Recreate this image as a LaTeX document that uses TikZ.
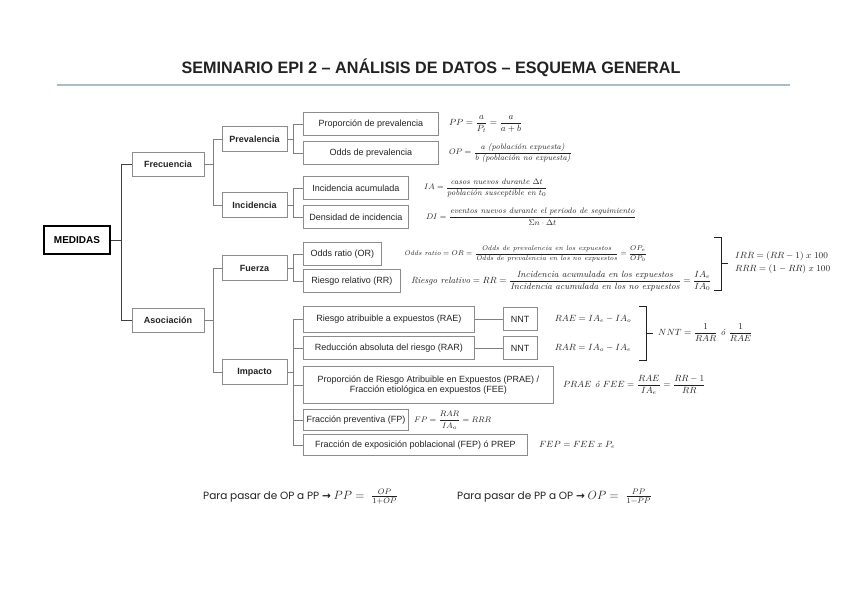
\documentclass[tikz,border=0pt]{standalone}
\usepackage{amsmath,amssymb}
\usepackage[no-math]{fontspec}
\setsansfont{Liberation Sans}
\newfontfamily\popfont{Poppins}
\newfontfamily\arrowfont{DejaVu Sans}
\usetikzlibrary{positioning,calc}
\definecolor{boxGray}{HTML}{8C8C8C}
\definecolor{lineGray}{HTML}{7F7F7F}
\definecolor{rootLine}{HTML}{404040}
\definecolor{textDark}{HTML}{222222}
\definecolor{ruleBlue}{HTML}{A8BEC4}
\newcommand{\ftext}[1]{\text{\itshape #1}}

\begin{document}
\begin{tikzpicture}[
    x=1pt, y=-1pt,
    node distance=10pt,
    font=\sffamily\fontsize{9}{10}\selectfont,
    head/.style={draw=black, line width=1.3pt, minimum width=66pt, minimum height=28pt, font=\sffamily\bfseries\fontsize{10}{11}\selectfont},
    group/.style={draw=boxGray, line width=0.8pt, minimum width=72pt, minimum height=24pt, text=textDark, font=\sffamily\bfseries\fontsize{9}{10}\selectfont},
    sub/.style={group, minimum width=65pt, minimum height=25pt},
    item/.style={draw=boxGray, line width=0.8pt, minimum height=23pt, anchor=west, text=textDark},
    nnt/.style={draw=boxGray, line width=0.8pt, minimum width=34pt, minimum height=23pt, text=textDark},
    formula/.style={anchor=west, inner sep=0pt, text=textDark, font=\rmfamily\fontsize{8}{9}\selectfont},
    rootlink/.style={draw=rootLine, line width=1pt},
    link/.style={draw=lineGray, line width=0.8pt},
    bracket/.style={draw=textDark, line width=0.7pt}
]
    \useasboundingbox (0,0) rectangle (848,599);

    \node[text=textDark] (title) at (431,68) {\scalebox{0.98}[1]{\fontsize{16.5}{18}\selectfont\bfseries SEMINARIO EPI 2 – ANÁLISIS DE DATOS – ESQUEMA GENERAL}};
    \draw[ruleBlue, line width=2pt] (57,85) -- (790,85);

    \node[head] (medidas) at (77,240) {MEDIDAS};
    \node[group] (frec) at (168,164) {Frecuencia};
    \node[group] (asoc) at (168,320) {Asociación};
    \node[sub] (prev) at (254.5,139) {Prevalencia};
    \node[sub] (inci) at (254.5,205) {Incidencia};
    \node[sub] (fuer) at (254.5,268) {Fuerza};
    \node[sub] (impa) at (254.5,372) {Impacto};

    \node[item, minimum width=135pt] (propprev) at (303,124) {Proporción de prevalencia};
    \node[item, minimum width=135pt] (oddsprev) at (303,153) {Odds de prevalencia};
    \node[item, minimum width=105pt] (incacum) at (303,188) {Incidencia acumulada};
    \node[item, minimum width=105pt] (densinc) at (303,217) {Densidad de incidencia};
    \node[item, minimum width=78pt] (oddsratio) at (303,254) {Odds ratio (OR)};
    \node[item, minimum width=97pt] (riesgorel) at (303,281) {Riesgo relativo (RR)};
    \node[item, minimum width=171pt, minimum height=26pt] (rae) at (303,319) {Riesgo atribuible a expuestos (RAE)};
    \node[item, minimum width=171pt] (rar) at (303,348) {Reducción absoluta del riesgo (RAR)};
    \node[item, minimum width=250pt, minimum height=37pt, align=center] (prae) at (303,385) {Proporción de Riesgo Atribuible en Expuestos (PRAE) /\\ Fracción etiológica en expuestos (FEE)};
    \node[item, minimum width=87pt, minimum height=21pt] (fp) at (303,420) {Fracción preventiva (FP)};
    \node[item, minimum width=224pt, minimum height=21pt] (fep) at (303,445) {Fracción de exposición poblacional (FEP) ó PREP};
    \node[nnt, right=28pt of rae] (nntrae) {NNT};
    \node[nnt, right=28pt of rar] (nntrar) {NNT};

    \draw[rootlink] (medidas.east) -- ++(11,0) |- (frec.west);
    \draw[rootlink] (medidas.east) -- ++(11,0) |- (asoc.west);
    \foreach \from/\kid in {frec/prev, frec/inci, asoc/fuer, asoc/impa}
        \draw[link] (\from.east) -- ++(9,0) |- (\kid.west);
    \foreach \from/\kid in {prev/propprev, prev/oddsprev, inci/incacum, inci/densinc,
                           fuer/oddsratio, fuer/riesgorel, impa/rae, impa/rar,
                           impa/prae, impa/fp, impa/fep}
        \draw[link] (\from.east) -- ++(6,0) |- (\kid.west);
    \draw[link] (rae) -- (nntrae);
    \draw[link] (rar) -- (nntrar);

    \node[formula, font=\rmfamily\fontsize{9}{10}\selectfont, right=10pt of propprev] (fpp) {$PP=\dfrac{a}{P_t}=\dfrac{a}{a+b}$};
    \node[formula, right=10pt of oddsprev] (fop) {$OP=\dfrac{\ftext{a (población expuesta)}}{\ftext{b (población no expuesta)}}$};
    \node[formula, right=15pt of incacum] (fia) {$IA=\dfrac{\ftext{casos nuevos durante $\Delta t$}}{\ftext{población susceptible en $t_0$}}$};
    \node[formula, right=17pt of densinc] (fdi) {$DI=\dfrac{\ftext{eventos nuevos durante el periodo de seguimiento}}{\Sigma n\cdot\Delta t}$};
    \node[formula, font=\rmfamily\fontsize{6.8}{8}\selectfont, right=22pt of oddsratio] (for) {$\ftext{Odds ratio}=OR=\dfrac{\ftext{Odds de prevalencia en los expuestos}}{\ftext{Odds de prevalencia en los no expuestos}}=\dfrac{OP_e}{OP_0}$};
    \node[formula, font=\rmfamily\fontsize{9}{10}\selectfont, right=10pt of riesgorel] (frr) {$\ftext{Riesgo relativo}=RR=\dfrac{\ftext{Incidencia acumulada en los expuestos}}{\ftext{Incidencia acumulada en los no expuestos}}=\dfrac{IA_e}{IA_0}$};
    \node[formula, font=\rmfamily\fontsize{9}{10}\selectfont, right=17pt of nntrae] (frae) {$RAE=IA_e-IA_o$};
    \node[formula, font=\rmfamily\fontsize{9}{10}\selectfont, right=17pt of nntrar] (frar) {$RAR=IA_o-IA_e$};
    \node[formula, font=\rmfamily\fontsize{9}{10}\selectfont, right=9pt of prae] (fprae) {$PRAE\ftext{ ó }FEE=\dfrac{RAE}{IA_e}=\dfrac{RR-1}{RR}$};
    \node[formula, right=5pt of fp] (ffp) {$FP=\dfrac{RAR}{IA_o}=RRR$};
    \node[formula, font=\rmfamily\fontsize{9}{10}\selectfont, right=11pt of fep] (ffep) {$FEP=FEE\;x\;P_e$};

    \coordinate (b1top) at (721,237);
    \coordinate (b1bot) at (721,290);
    \coordinate (b1mid) at (721,263);
    \draw[bracket] ($(b1top)+(-7,0)$) -- (b1top) -- (b1bot) -- ++(-7,0);
    \draw[bracket] (b1mid) -- ++(7,0);
    \node[formula, font=\rmfamily\fontsize{9}{10}\selectfont, align=left] (firr) at (735,263) {$IRR=(RR-1)\;x\;100$\\[3pt]$RRR=(1-RR)\;x\;100$};

    \coordinate (b2top) at (646,306);
    \coordinate (b2bot) at (646,360);
    \coordinate (b2mid) at (646,333);
    \draw[bracket] ($(b2top)+(-7,0)$) -- (b2top) -- (b2bot) -- ++(-7,0);
    \draw[bracket] (b2mid) -- ++(7,0);
    \node[formula, font=\rmfamily\fontsize{9}{10}\selectfont] (fnnt) at (658,333) {$NNT=\dfrac{1}{RAR}\ftext{ ó }\dfrac{1}{RAE}$};

    \node[anchor=west, inner sep=0pt, text=textDark, font=\popfont\fontsize{10.5}{12}\selectfont] (opapp) at (203,497) {Para pasar de OP a PP {\arrowfont\bfseries →} {\fontsize{12}{14}\selectfont$PP=\;\frac{OP}{1+OP}$}};
    \node[anchor=west, inner sep=0pt, text=textDark, font=\popfont\fontsize{10.5}{12}\selectfont] (ppaop) at (457,497) {Para pasar de PP a OP {\arrowfont\bfseries →} {\fontsize{12}{14}\selectfont$OP=\;\frac{PP}{1-PP}$}};
\end{tikzpicture}
\end{document}
